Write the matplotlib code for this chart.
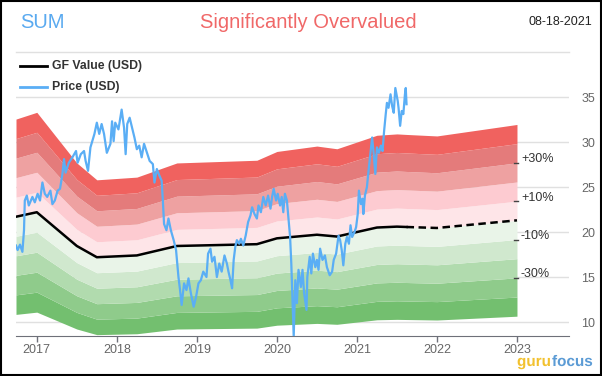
import matplotlib.pyplot as plt
import matplotlib.patheffects as pe
from matplotlib.lines import Line2D
from matplotlib.patches import Rectangle
import numpy as np

plt.rcParams['font.family'] = ['Liberation Sans', 'DejaVu Sans']

# GF Value (decimal years, USD)
gf_dates = [2016.74, 2017.0, 2017.5, 2017.75, 2018.25, 2018.75, 2019.75, 2020.0,
            2020.25, 2020.5, 2020.75, 2021.25, 2021.5, 2021.62, 2022.0, 2023.0]
gf_values = [21.7, 22.2, 18.45, 17.2, 17.4, 18.45, 18.65, 19.3,
             19.5, 19.7, 19.5, 20.5, 20.6, 20.56, 20.45, 21.3]
last_date = 2021.62

# Price (decimal years, USD)
price_dates = [
    2016.74, 2016.76, 2016.79, 2016.82, 2016.84, 2016.85, 2016.875, 2016.90, 2016.945, 2016.975,
    2017.01, 2017.04, 2017.07, 2017.10, 2017.13, 2017.17, 2017.195, 2017.225, 2017.26, 2017.29,
    2017.32, 2017.34, 2017.36, 2017.40, 2017.445, 2017.49, 2017.51, 2017.55, 2017.59, 2017.61,
    2017.64, 2017.67, 2017.72, 2017.75, 2017.78, 2017.81, 2017.84, 2017.875, 2017.92, 2017.94,
    2017.96, 2017.98, 2018.02, 2018.06, 2018.09, 2018.11, 2018.13, 2018.16, 2018.19, 2018.22,
    2018.25, 2018.28, 2018.31, 2018.34, 2018.375, 2018.41, 2018.45, 2018.47, 2018.50, 2018.53,
    2018.56, 2018.575, 2018.59, 2018.62, 2018.645, 2018.675, 2018.71, 2018.74, 2018.77, 2018.79,
    2018.81, 2018.84, 2018.87, 2018.895, 2018.925, 2018.96, 2018.99, 2019.02, 2019.05, 2019.08,
    2019.12, 2019.14, 2019.17, 2019.19, 2019.22, 2019.25, 2019.28, 2019.31, 2019.345, 2019.375,
    2019.395, 2019.42, 2019.44, 2019.46, 2019.48, 2019.50, 2019.53, 2019.55, 2019.58, 2019.61,
    2019.64, 2019.67, 2019.69, 2019.72, 2019.75, 2019.77, 2019.80, 2019.83, 2019.86, 2019.89,
    2019.92, 2019.94, 2019.96, 2019.99, 2020.01, 2020.04, 2020.06, 2020.08, 2020.10, 2020.125,
    2020.145, 2020.165, 2020.18, 2020.195, 2020.21, 2020.23, 2020.25, 2020.27, 2020.30, 2020.32,
    2020.34, 2020.37, 2020.38, 2020.41, 2020.43, 2020.45, 2020.48, 2020.50, 2020.52, 2020.54,
    2020.57, 2020.60, 2020.625, 2020.66, 2020.69, 2020.71, 2020.74, 2020.77, 2020.79, 2020.81,
    2020.83, 2020.855, 2020.875, 2020.90, 2020.92, 2020.94, 2020.97, 2020.99, 2021.01, 2021.025,
    2021.05, 2021.07, 2021.08, 2021.10, 2021.125, 2021.145, 2021.17, 2021.19, 2021.21, 2021.23,
    2021.25, 2021.275, 2021.30, 2021.32, 2021.34, 2021.36, 2021.375, 2021.395, 2021.42, 2021.44,
    2021.46, 2021.48, 2021.51, 2021.52, 2021.54, 2021.56, 2021.58, 2021.60, 2021.61, 2021.62,
]
price_values = [
    18.5, 18.0, 18.6, 17.8, 20.2, 23.5, 24.05, 22.95, 23.9, 23.3,
    24.25, 23.5, 25.5, 24.25, 23.9, 24.6, 23.1, 23.5, 24.6, 24.8,
    26.45, 28.1, 26.6, 27.7, 28.3, 29.0, 27.7, 28.65, 29.0, 27.9,
    26.8, 29.4, 30.9, 32.15, 30.9, 32.0, 30.9, 28.8, 29.8, 32.3,
    30.1, 32.15, 31.4, 33.6, 31.6, 28.65, 32.0, 32.7, 31.6, 30.5,
    29.2, 29.6, 28.3, 29.8, 28.85, 27.9, 27.55, 25.5, 27.0, 26.3,
    25.7, 23.5, 20.9, 20.2, 21.5, 20.2, 19.1, 18.0, 15.0, 13.55,
    11.9, 14.3, 13.55, 14.85, 13.2, 11.7, 12.8, 14.3, 14.65, 15.6,
    15.0, 17.6, 18.15, 16.7, 17.25, 15.0, 16.5, 15.6, 17.4, 16.5,
    15.6, 14.65, 13.75, 16.9, 18.35, 19.1, 18.7, 19.25, 18.5, 19.6,
    21.1, 21.85, 22.75, 22.0, 21.5, 22.95, 22.2, 23.9, 22.95, 24.05,
    22.6, 23.9, 24.8, 23.5, 24.25, 22.95, 23.9, 22.2, 24.25, 23.5,
    21.5, 19.45, 16.5, 12.45, 8.4, 14.65, 12.1, 15.8, 13.9, 15.8,
    13.2, 11.35, 15.0, 17.25, 15.4, 17.6, 16.1, 16.9, 15.8, 18.15,
    16.9, 17.4, 16.1, 15.2, 15.6, 16.9, 17.6, 19.6, 19.1, 18.0,
    16.3, 18.7, 19.45, 18.7, 20.75, 19.45, 20.0, 20.55, 22.0, 24.6,
    23.1, 23.7, 22.0, 24.05, 25.0, 26.8, 28.8, 30.5, 28.65, 26.45,
    29.4, 28.8, 29.6, 29.0, 31.25, 33.1, 34.35, 33.8, 35.3, 34.0,
    33.25, 36.0, 34.55, 33.8, 31.8, 33.45, 33.1, 35.3, 36.0, 34.2,
]

band_levels = [0.5, 0.6, 0.7, 0.8, 0.9, 1.0, 1.1, 1.2, 1.3, 1.4, 1.5]
band_colors = ['#73bf6f', '#8fcb8b', '#b1dbae', '#d0e8ce', '#e9f4e8',
               '#fee5e8', '#fdcbd1', '#eea1a1', '#e47b7b', '#f0625f']
pct_levels = [1.3, 1.1, 0.9, 0.7]
pct_labels = ['+30%', '+10%', '-10%', '-30%']

year_ticks = [2017, 2018, 2019, 2020, 2021, 2022, 2023]
price_ticks = [10, 15, 20, 25, 30, 35]

fig = plt.figure(figsize=(6.02, 3.76), dpi=100)
ax = fig.add_axes([16 / 602, 1 - 336 / 376, 553 / 602, 284 / 376])

gf_x = np.array(gf_dates)
gf_y = np.array(gf_values)
for i in range(len(band_colors)):
    ax.fill_between(gf_x, gf_y * band_levels[i], gf_y * band_levels[i + 1],
                    color=band_colors[i], lw=0, zorder=2)

past = gf_x <= last_date
future = gf_x >= last_date
ax.plot(gf_x[past], gf_y[past], color='black', lw=1.8, zorder=4)
ax.plot(gf_x[future], gf_y[future], color='black', lw=1.8, ls=(0, (3, 1.8)), zorder=4)
ax.plot(price_dates, price_values, color='#5aaef5', lw=1.6, zorder=5)

end_gf = gf_values[-1]
for lvl, lab in zip(pct_levels, pct_labels):
    yv = end_gf * lvl
    ax.plot([gf_dates[-1] - 0.035, gf_dates[-1] + 0.015], [yv, yv], color='#444444', lw=1, zorder=6)
    ax.annotate(lab, (gf_dates[-1] + 0.05, yv), xytext=(0, 2.5), textcoords='offset points',
                fontsize=9, color='#333333', va='center', ha='left', zorder=6)

ax.set_xlim(2016.74, 2023.65)
ax.set_ylim(8.45, 40)
ax.set_xticks(year_ticks)
ax.set_xticklabels([str(y) for y in year_ticks])
ax.set_yticks(price_ticks)
ax.yaxis.tick_right()
ax.tick_params(axis='y', length=0, pad=9, labelsize=9, labelcolor='#666666')
ax.tick_params(axis='x', length=4, width=1, color='#6e7079', pad=2, labelsize=9, labelcolor='#666666')
ax.grid(axis='y', color='#e0e0e0', lw=1, zorder=0)
ax.axhline(40, color='#e0e0e0', lw=1, zorder=0, clip_on=False)
for s in ['top', 'left', 'right']:
    ax.spines[s].set_visible(False)
ax.spines['bottom'].set_color('#6e7079')
ax.set_axisbelow(True)

# header
fig.text(20 / 602, 1 - 22 / 376, 'SUM', fontsize=14.5, color='#5aaaf0', va='center', ha='left')
fig.text(308 / 602, 1 - 22 / 376, 'Significantly Overvalued', fontsize=14.5, color='#f06868',
         va='center', ha='center')
fig.text(592 / 602, 1 - 22 / 376, '08-18-2021', fontsize=9, color='#222222', va='center', ha='right')

# legend
fig.add_artist(Line2D([20 / 602, 47 / 602], [1 - 66 / 376] * 2, color='black', lw=2))
fig.add_artist(Line2D([20 / 602, 47 / 602], [1 - 87 / 376] * 2, color='#5aaef5', lw=2))
fig.text(52 / 602, 1 - 66 / 376, 'GF Value (USD)', fontsize=8.8, fontweight='bold', color='#333333', va='center')
fig.text(52 / 602, 1 - 87 / 376, 'Price (USD)', fontsize=8.8, fontweight='bold', color='#333333', va='center')

# logo
stroke = [pe.withStroke(linewidth=2.5, foreground='white')]
fig.text(517 / 602, 1 - 362 / 376, 'guru', fontsize=11, fontweight='bold', color='#f2c12e',
         va='center', ha='left', path_effects=stroke)
fig.text(552 / 602, 1 - 362 / 376, 'focus', fontsize=11, fontweight='bold', color='#5b9bd5',
         va='center', ha='left', path_effects=stroke)

fig.add_artist(Rectangle((0.001, 0.002), 0.997, 0.996, transform=fig.transFigure,
                         fill=False, ec='black', lw=1.5))

fig.savefig('out.png', dpi=100)
